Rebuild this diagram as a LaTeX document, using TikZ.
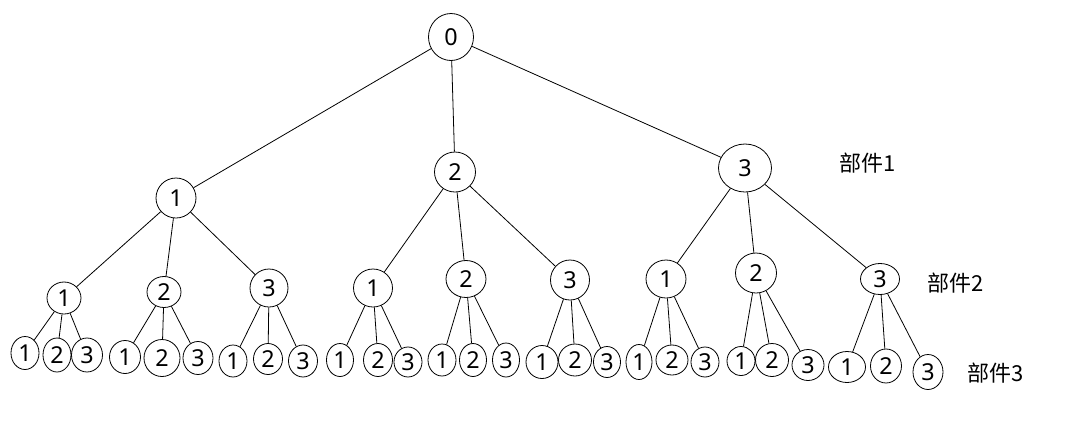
\documentclass[tikz,border=0pt]{standalone}
\usepackage{fontspec}
\setmainfont{Noto Sans}
\newfontfamily\cjkfont{Noto Sans CJK SC}
\usetikzlibrary{shapes.geometric}

\begin{document}
\begin{tikzpicture}[x = .75pt, y = -.75pt,
		part/.style 2 args = {ellipse, draw, line width = .6pt, inner sep = 0pt,
			minimum width = #1*.75pt, minimum height = #2*.75pt,
			font = \fontsize{17.5}{19}\selectfont},
		level/.style = {font = \cjkfont\fontsize{16.5}{18}\selectfont}]
	\useasboundingbox (0,0) rectangle (1076,430);
	\node[part = {45}{47}] (r) at (451,37) {0}; %root
	% first component
	\foreach \n/\px/\py/\w/\h/\t in {a/176/198/40/40/1, b/455/172/41/40/2, c/745/168/53/48/3}
		\node[part = {\w}{\h}] (\n) at (\px,\py) {\t};
	% second component
	\foreach \n/\px/\py/\w/\h/\t in {a1/64/298/34/32/1, a2/164/292/34/31/2, a3/269/288/38/38/3,
			b1/373/288/39/38/1, b2/466/279/40/37/2, b3/570/280/39/40/3,
			c1/666/279/40/38/1, c2/756/273/41/40/2, c3/880/279/39/31/3}
		\node[part = {\w}{\h}] (\n) at (\px,\py) {\t};
	% third component
	\foreach \n/\px/\py/\w/\h/\t in {a11/25/353/28/33/1, a12/57/355/28/34/2, a13/87/355/31/34/3,
			a21/125/357/31/33/1, a22/162/358/36/37/2, a23/198/358/30/33/3,
			a31/233/361/28/32/1, a32/268/359/29/31/2, a33/303/361/29/32/3,
			b11/340/360/27/33/1, b12/378/360/29/33/2, b13/408/362/28/30/3,
			b21/442/360/28/32/1, b22/473/360/27/33/2, b23/506/360/27/34/3,
			b31/542/362/32/33/1, b32/575/360/33/32/2, b33/607/362/27/31/3,
			c11/639/362/26/35/1, c12/672/360/32/30/2, c13/705/362/28/30/3,
			c21/741/361/28/29/1, c22/772/360/33/33/2, c23/808/365/32/31/3,
			c31/847/367/37/31/1, c32/886/366/31/34/2, c33/928/372/30/35/3}
		\node[part = {\w}{\h}] (\n) at (\px,\py) {\t};
	% branches
	\foreach \p in {a, b, c} {
		\draw[line width = .6pt] (r) -- (\p);
		\foreach \q in {1, 2, 3} {
			\draw[line width = .6pt] (\p) -- (\p\q);
			\foreach \s in {1, 2, 3}
				\draw[line width = .6pt] (\p\q) -- (\p\q\s);
		}
	}
	\node[level] (l1) at (868,163) {部件1};
	\node[level] (l2) at (956,283) {部件2};
	\node[level] (l3) at (996,373) {部件3};
\end{tikzpicture}
\end{document}
